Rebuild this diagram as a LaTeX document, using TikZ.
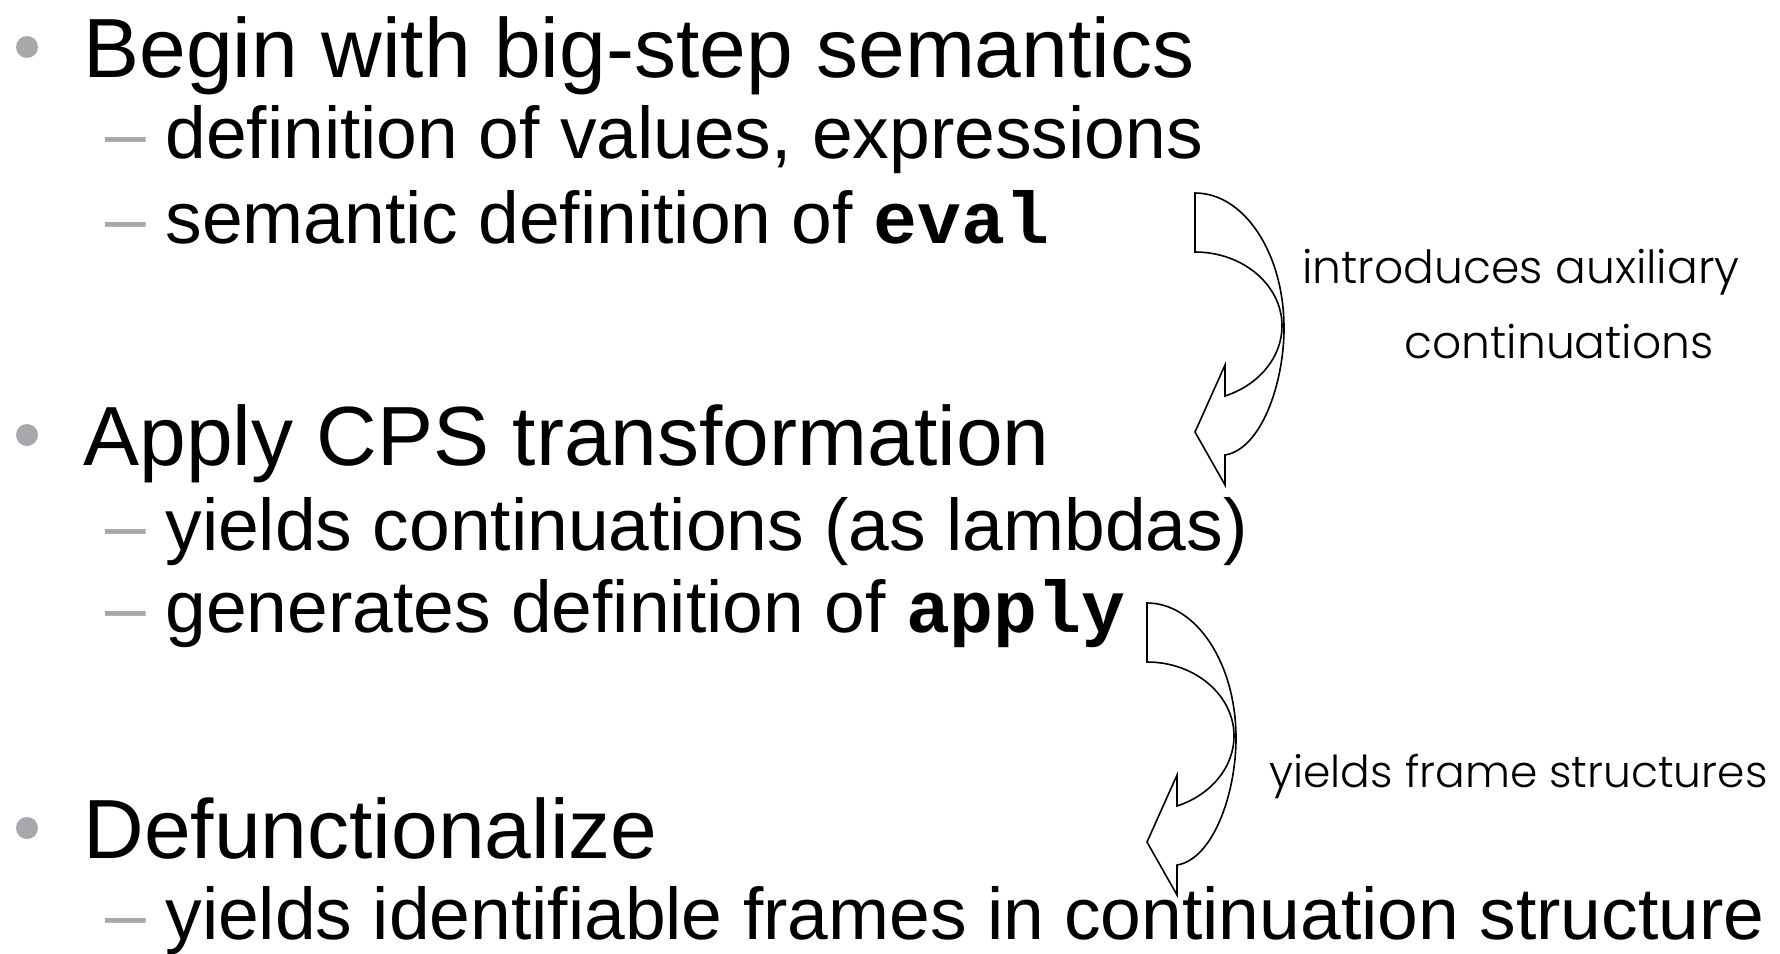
\documentclass[tikz,border=0pt]{standalone}
\usepackage{fontspec}
\setmainfont{Liberation Sans}
\setmonofont{Liberation Mono}
\IfFontExistsTF{Poppins Light}{\newfontfamily\labelfont{Poppins Light}}{\newfontfamily\labelfont{Poppins}}
\definecolor{bulletgray}{RGB}{168,168,172}
\newcommand{\codeword}[1]{{\ttfamily\bfseries #1}}
\tikzset{
  carrow/.pic={
    \draw[curvedarrow] (0,0) .. controls (49.2,0) and (89,60.4) .. (89,135)
      .. controls (89,192) and (65.4,256.4) .. (30,262)
      -- (30,292) -- (0,239) -- (30,172) -- (30,203)
      .. controls (64.2,191.8) and (87,164) .. (87,133)
      .. controls (87,92.1) and (48,59) .. (0,59) -- cycle;
  }
}
\begin{document}
\begin{tikzpicture}[x=0.5pt,y=-0.5pt,
  lvlone/.style={anchor=base west, inner sep=0pt, font=\fontsize{42}{50}\selectfont},
  lvltwo/.style={anchor=base west, inner sep=0pt, font=\fontsize{36.6}{44}\selectfont},
  dashmark/.style={anchor=base west, inner sep=0pt, text=bulletgray, font=\fontsize{36.6}{44}\selectfont},
  bulletdot/.style={circle, fill=bulletgray, minimum size=11pt, inner sep=0pt},
  note/.style={anchor=base west, inner sep=0pt, font=\labelfont\fontsize{22.8}{28}\selectfont},
  curvedarrow/.style={draw=black, line width=0.8pt, line join=miter}
]
\useasboundingbox (0,0) rectangle (1780,953);

% bullet 1
\node[bulletdot] (b1) at (27,47) {};
\node[lvlone] (t1) at (83,77) {Begin with big-step semantics};
\node[dashmark] (m1) at (105,158) {–};
\node[lvltwo] (t1a) at (165,158) {definition of values, expressions};
\node[dashmark] (m2) at (105,243) {–};
\node[lvltwo] (t1b) at (165,243) {semantic definition of \codeword{eval}};

% bullet 2
\node[bulletdot] (b2) at (27,435) {};
\node[lvlone] (t2) at (83,465) {Apply CPS transformation};
\node[dashmark] (m3) at (105,550) {–};
\node[lvltwo] (t2a) at (165,550) {yields continuations (as lambdas)};
\node[dashmark] (m4) at (105,632) {–};
\node[lvltwo] (t2b) at (165,632) {generates definition of \codeword{apply}};

% bullet 3
\node[bulletdot] (b3) at (27,828) {};
\node[lvlone] (t3) at (83,858) {Defunctionalize};
\node[dashmark] (m5) at (105,939) {–};
\node[lvltwo] (t3a) at (165,939) {yields identifiable frames in continuation structure};

% curved arrows
\pic at (1195,193) {carrow};
\pic at (1147,603) {carrow};

% notes
\node[note] (n1) at (1302,283) {introduces auxiliary};
\node[note] (n1b) at (1404,358) {continuations};
\node[note, font=\labelfont\fontsize{22}{28}\selectfont] (n2) at (1269,787) {yields frame structures};
\end{tikzpicture}
\end{document}
